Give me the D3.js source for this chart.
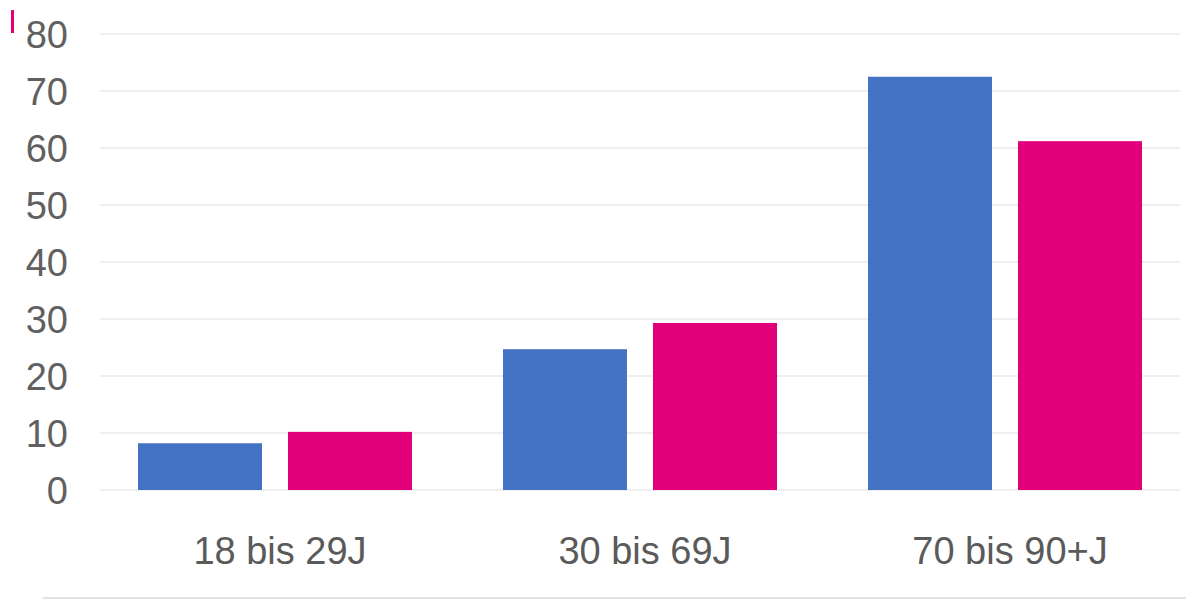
<!DOCTYPE html>
<html>
<head>
<meta charset="utf-8">
<script src="https://cdn.jsdelivr.net/npm/d3@7"></script>
<style>
  html, body { margin: 0; padding: 0; background: #fff; }
  svg { display: block; font-family: "Liberation Sans", Arial, sans-serif; }
</style>
</head>
<body>
<div id="chart"></div>
<script>
// Altersgruppen und Werte
const categories = ["18 bis 29J", "30 bis 69J", "70 bis 90+J"];
const seriesBlue = [8.2, 24.7, 72.5];
const seriesPink = [10.2, 29.3, 61.2];
const yTicks = [0, 10, 20, 30, 40, 50, 60, 70, 80];

const W = 1192, H = 599;
const COLORS = ["#4472c4", "#e2007a"];

const svg = d3.select("#chart").append("svg")
    .attr("width", W)
    .attr("height", H);

const x = d3.scaleBand().domain(categories).range([92.5, 1187.5]).paddingInner(0).paddingOuter(0);
const xInner = d3.scaleBand().domain([0, 1]).range([45.5, 319.5]).paddingInner(26 / 150).paddingOuter(0);
const y = d3.scaleLinear().domain([0, 80]).range([490, 34]);

// Gitterlinien
svg.append("g")
    .selectAll("line")
    .data(yTicks)
    .join("line")
    .attr("x1", 100)
    .attr("x2", 1180)
    .attr("y1", d => y(d))
    .attr("y2", d => y(d))
    .attr("stroke", "#efefef")
    .attr("stroke-width", 2);

// y-Achse
const yAxis = svg.append("g")
    .attr("transform", "translate(68,0)")
    .call(d3.axisLeft(y).tickValues(yTicks).tickSize(0).tickPadding(0));
yAxis.select(".domain").remove();
yAxis.selectAll("text")
    .attr("fill", "#606060")
    .attr("font-size", 38)
    .attr("font-family", "Liberation Sans, Arial, sans-serif")
    .attr("dy", "0.36em");

// Balken
const data = categories.map((c, i) => ({ cat: c, values: [seriesBlue[i], seriesPink[i]] }));
const groups = svg.append("g")
    .selectAll("g")
    .data(data)
    .join("g")
    .attr("transform", d => `translate(${x(d.cat)},0)`);

groups.selectAll("rect")
    .data(d => d.values.map((v, k) => ({ k, v })))
    .join("rect")
    .attr("x", d => xInner(d.k))
    .attr("width", xInner.bandwidth())
    .attr("y", d => y(d.v))
    .attr("height", d => y(0) - y(d.v))
    .attr("fill", d => COLORS[d.k]);

// x-Achse Beschriftung
const xAxis = svg.append("g")
    .attr("transform", "translate(5,550)")
    .call(d3.axisBottom(x).tickSize(0).tickPadding(0));
xAxis.select(".domain").remove();
xAxis.selectAll("text")
    .attr("fill", "#5a5a5a")
    .attr("font-size", 38)
    .attr("font-family", "Liberation Sans, Arial, sans-serif")
    .attr("dy", "0.36em");

// untere Linie
svg.append("line")
    .attr("x1", 43).attr("x2", 1186)
    .attr("y1", 598).attr("y2", 598)
    .attr("stroke", "#e2e2e2")
    .attr("stroke-width", 2);

// kleine Markierung oben links
svg.append("rect")
    .attr("x", 11).attr("y", 10)
    .attr("width", 3).attr("height", 23)
    .attr("fill", "#e2007a");
</script>
</body>
</html>
